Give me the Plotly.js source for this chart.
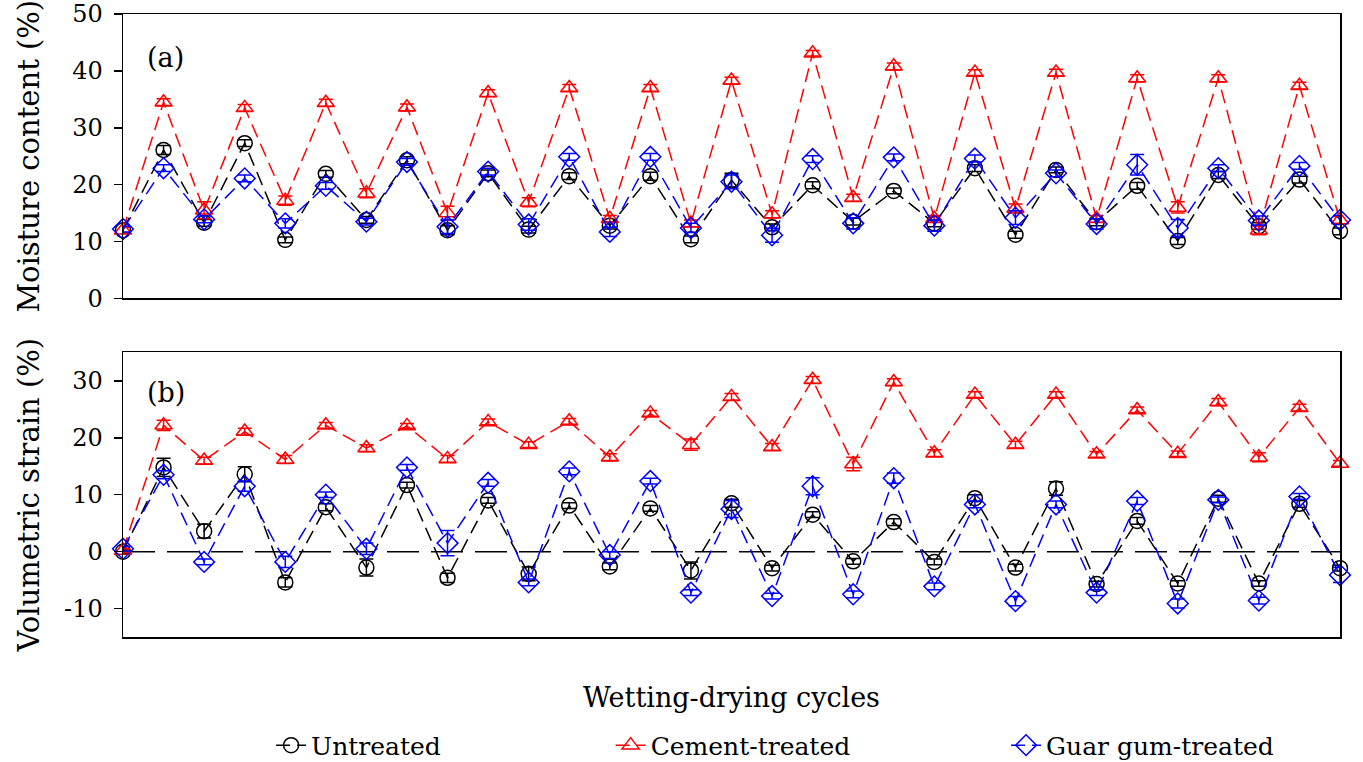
<!DOCTYPE html>
<html>
<head>
<meta charset="utf-8">
<script src="https://cdn.plot.ly/plotly-3.0.1.min.js"></script>
<style>html,body{margin:0;padding:0;background:#fff;}#chart{width:1363px;height:762px;}</style>
</head>
<body>
<div id="chart"></div>
<script>
// Wetting-drying cycle index (no tick labels shown)
const cycles = [0,1,2,3,4,5,6,7,8,9,10,11,12,13,14,15,16,17,18,19,20,21,22,23,24,25,26,27,28,29,30];

// (a) Moisture content (%)
const moistUntreated = [12.0,26.1,13.3,27.3,10.3,21.9,13.8,24.3,12.0,22.0,12.1,21.5,12.8,21.5,10.4,20.8,12.5,19.9,13.5,18.9,13.2,22.9,11.2,22.6,13.4,19.8,10.1,21.7,12.7,20.9,11.8];
const moistCement    = [12.0,34.5,15.5,33.5,17.2,34.4,18.5,33.6,15.0,36.1,16.9,37.0,14.0,37.0,13.2,38.3,14.8,43.1,17.7,40.8,14.0,39.7,15.8,39.7,14.0,38.7,16.0,38.7,12.0,37.4,13.8];
const moistGuar      = [12.2,22.9,13.9,21.1,13.2,19.8,13.5,24.0,12.6,22.3,13.0,24.9,11.7,24.9,12.4,20.5,11.1,24.5,13.2,24.8,12.8,24.6,14.2,22.0,13.1,23.5,12.4,22.9,13.7,23.3,13.8];
const errMoistUntreated = [0.5,0.8,0.6,0.6,0.5,0.6,0.6,0.6,0.8,0.6,0.6,0.6,0.6,0.7,0.6,1.2,0.6,0.6,0.6,0.5,0.6,0.6,0.6,0.5,0.6,0.6,0.6,0.6,0.6,0.6,0.6];
const errMoistCement    = [0.5,0.6,1.5,0.6,0.8,0.6,0.8,0.6,1.2,0.6,0.8,0.6,0.6,0.6,0.6,0.6,0.6,0.5,0.6,0.6,0.6,0.5,0.8,0.6,0.6,0.6,1.0,0.6,0.8,0.6,0.6];
const errMoistGuar      = [0.5,0.6,0.6,0.6,0.8,0.6,0.6,0.6,1.2,0.6,1.0,0.6,0.8,0.6,0.8,1.2,1.2,0.6,1.0,0.6,1.0,0.6,1.2,0.6,0.9,1.8,1.5,0.6,0.8,0.6,0.8];

// (b) Volumetric strain (%)
const strainUntreated = [0.0,14.8,3.6,13.6,-5.4,7.8,-2.8,11.7,-4.6,9.0,-3.9,8.1,-2.6,7.6,-3.3,8.5,-2.9,6.5,-1.7,5.2,-1.8,9.4,-2.8,11.1,-5.7,5.4,-5.6,9.3,-5.6,8.4,-2.9];
const strainCement    = [0.2,22.2,16.0,21.1,16.2,22.2,18.2,22.1,16.3,22.8,18.8,22.9,16.6,24.3,18.8,27.2,18.4,30.2,15.4,29.8,17.3,27.6,18.8,27.6,17.1,24.9,17.2,26.3,16.6,25.3,15.5];
const strainGuar      = [0.5,13.5,-1.8,11.5,-1.8,10.0,0.5,14.8,1.5,12.1,-5.4,14.1,-0.6,12.4,-7.2,7.5,-7.8,11.5,-7.5,12.9,-6.1,8.3,-8.7,8.3,-7.2,8.9,-9.1,9.1,-8.6,9.7,-4.1];
const errStrainUntreated = [0.3,1.6,1.2,1.3,0.8,0.6,1.5,0.5,0.8,0.5,1.2,0.5,0.6,0.5,1.5,0.7,0.5,0.5,0.5,0.6,0.5,0.6,0.6,1.2,0.5,0.6,0.5,0.6,0.5,0.6,0.5];
const errStrainCement    = [0.3,0.9,0.6,0.6,0.7,0.5,0.6,0.4,0.6,0.5,0.5,0.5,0.6,0.5,1.0,0.6,0.6,0.6,1.2,0.6,0.6,0.5,0.6,0.5,0.5,0.5,0.5,0.6,0.8,0.6,0.5];
const errStrainGuar      = [0.4,0.7,0.5,0.9,1.0,0.5,1.0,0.5,2.2,0.6,0.6,0.6,0.6,0.5,0.5,1.5,0.5,1.5,0.6,0.9,0.6,0.6,0.8,0.6,0.5,0.6,0.8,0.5,0.6,0.5,1.3];

const seriesNames = ['Untreated','Cement-treated','Guar gum-treated'];
const yTicksA = [0,10,20,30,40,50];
const yTicksB = [-10,0,10,20,30];

const FONT = 'DejaVu Serif, Liberation Serif, serif';
const styles = [
  {color:'#000000', symbol:'circle-open', size:15, legend:'legend'},
  {color:'#ff0000', symbol:'triangle-up-open', size:15, legend:'legend2'},
  {color:'#0000ff', symbol:'diamond-open', size:16, legend:'legend3'}
];
const moist = [moistUntreated, moistCement, moistGuar];
const moistErr = [errMoistUntreated, errMoistCement, errMoistGuar];
const strain = [strainUntreated, strainCement, strainGuar];
const strainErr = [errStrainUntreated, errStrainCement, errStrainGuar];

const traces = [];
for (let k = 0; k < 3; k++) {
  const s = styles[k];
  traces.push({
    x: cycles, y: moist[k], xaxis:'x', yaxis:'y', name: seriesNames[k],
    type:'scatter', mode:'lines+markers', cliponaxis:false,
    line:{color:s.color, width:1.5, dash:'14px,7px'},
    marker:{symbol:s.symbol, size:s.size, color:s.color, line:{color:s.color, width:1.5}},
    error_y:{type:'data', array: moistErr[k], visible:true, color:s.color, thickness:1.5, width:7},
    legend: s.legend, showlegend:true
  });
  traces.push({
    x: cycles, y: strain[k], xaxis:'x2', yaxis:'y2', name: seriesNames[k],
    type:'scatter', mode:'lines+markers', cliponaxis:false,
    line:{color:s.color, width:1.5, dash:'14px,7px'},
    marker:{symbol:s.symbol, size:s.size, color:s.color, line:{color:s.color, width:1.5}},
    error_y:{type:'data', array: strainErr[k], visible:true, color:s.color, thickness:1.5, width:7},
    showlegend:false
  });
}

const axisCommon = {
  showline:true, mirror:true, linecolor:'#000', linewidth:1.5,
  showgrid:false, zeroline:false
};
const legendCommon = {
  orientation:'h', yanchor:'middle', y:-0.174, xanchor:'left',
  font:{family:FONT, size:25, color:'#000'}, bgcolor:'rgba(0,0,0,0)', itemwidth:30
};

const layout = {
  width:1363, height:762,
  margin:{l:123, r:23, t:14, b:125, autoexpand:false},
  paper_bgcolor:'#fff', plot_bgcolor:'#fff',
  font:{family:FONT, color:'#000'},
  xaxis: Object.assign({}, axisCommon, {domain:[0,1], range:[0,30], showticklabels:false, ticks:'', anchor:'y'}),
  yaxis: Object.assign({}, axisCommon, {domain:[0.5434,1], range:[0,50], tickvals:yTicksA, ticktext:yTicksA.map(String),
    ticks:'outside', ticklen:8, tickwidth:1.5, tickcolor:'#000', tickfont:{family:FONT, size:24}, ticklabelstandoff:6,
    title:{text:'Moisture content (%)', font:{family:FONT, size:29}, standoff:24}, anchor:'x'}),
  xaxis2: Object.assign({}, axisCommon, {domain:[0,1], range:[0,30], showticklabels:false, ticks:'', anchor:'y2',
    title:{text:'Wetting-drying cycles', font:{family:FONT, size:27}, standoff:50}}),
  yaxis2: Object.assign({}, axisCommon, {domain:[0,0.4567], range:[-15,35], tickvals:yTicksB, ticktext:yTicksB.map(String),
    ticks:'outside', ticklen:8, tickwidth:1.5, tickcolor:'#000', tickfont:{family:FONT, size:24}, ticklabelstandoff:6,
    title:{text:'Volumetric strain (%)', font:{family:FONT, size:29}, standoff:16}, anchor:'x2'}),
  shapes:[{type:'line', xref:'x2 domain', yref:'y2', x0:0, x1:1, y0:0, y1:0,
    line:{color:'#000', width:1.5, dash:'32px,12px'}, layer:'below'}],
  annotations:[
    {text:'(a)', xref:'paper', yref:'paper', x:0.035, y:0.93, xanchor:'center', yanchor:'middle', showarrow:false, font:{family:FONT, size:27}},
    {text:'(b)', xref:'paper', yref:'paper', x:0.035, y:0.393, xanchor:'center', yanchor:'middle', showarrow:false, font:{family:FONT, size:27}}
  ],
  legend: Object.assign({}, legendCommon, {x:0.1217}),
  legend2: Object.assign({}, legendCommon, {x:0.4007}),
  legend3: Object.assign({}, legendCommon, {x:0.7256}),
  showlegend:true
};

Plotly.newPlot('chart', traces, layout, {displayModeBar:false, staticPlot:true});
</script>
</body>
</html>
